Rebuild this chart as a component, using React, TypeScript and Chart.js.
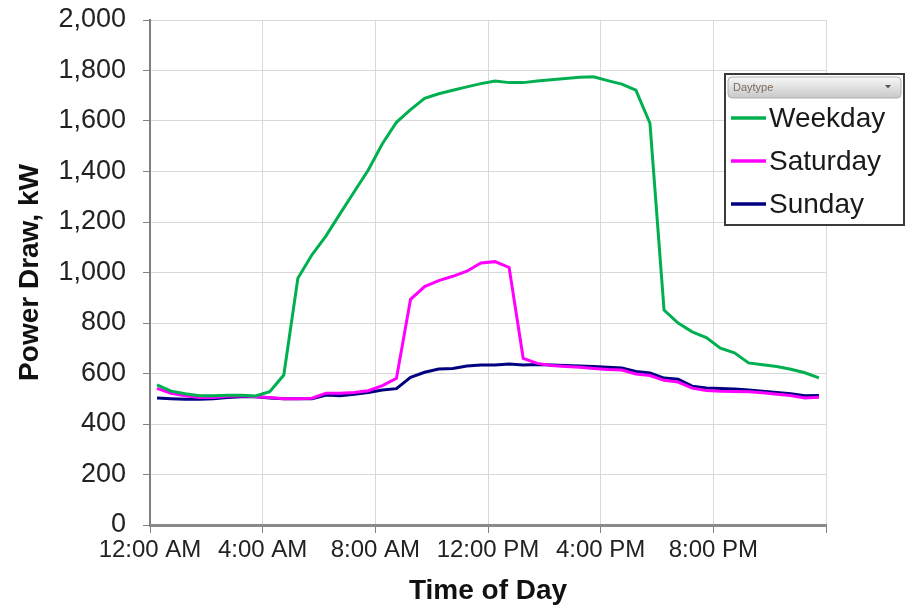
import React, { useEffect, useRef } from 'react';
import { Chart, registerables } from 'chart.js';

Chart.register(...registerables);

// Half-hour interval midpoints (time of day)
const TIMES = [
  '00:15', '00:45', '01:15', '01:45', '02:15', '02:45', '03:15', '03:45',
  '04:15', '04:45', '05:15', '05:45', '06:15', '06:45', '07:15', '07:45',
  '08:15', '08:45', '09:15', '09:45', '10:15', '10:45', '11:15', '11:45',
  '12:15', '12:45', '13:15', '13:45', '14:15', '14:45', '15:15', '15:45',
  '16:15', '16:45', '17:15', '17:45', '18:15', '18:45', '19:15', '19:45',
  '20:15', '20:45', '21:15', '21:45', '22:15', '22:45', '23:15', '23:45',
];

const WEEKDAY = [
  555, 530, 520, 512, 512, 514, 514, 511,
  528, 594, 977, 1070, 1145, 1233, 1320, 1406,
  1510, 1595, 1645, 1690, 1708, 1722, 1735, 1748,
  1758, 1752, 1752, 1758, 1763, 1768, 1773, 1775,
  1760, 1746, 1722, 1591, 851, 800, 765, 742,
  700, 682, 642, 635, 628, 617, 603, 583,
];

const SATURDAY = [
  541, 522, 512, 505, 505, 510, 512, 508,
  505, 500, 500, 502, 522, 522, 525, 532,
  552, 581, 894, 944, 968, 985, 1005, 1038,
  1043, 1020, 660, 640, 632, 628, 625, 620,
  616, 614, 598, 592, 573, 566, 542, 533,
  530, 529, 528, 524, 518, 513, 503, 506,
];

const SUNDAY = [
  503, 500, 498, 498, 500, 505, 508, 508,
  503, 500, 500, 500, 515, 512, 518, 525,
  535, 540, 585, 605, 618, 620, 630, 634,
  634, 638, 634, 636, 634, 632, 630, 628,
  625, 622, 608, 602, 582, 577, 550, 543,
  541, 539, 535, 530, 525, 520, 512, 513,
];

const SERIES_NAMES = ['Weekday', 'Saturday', 'Sunday'];
const SERIES_COLORS = ['#00b050', '#ff00ff', '#000080'];

const X_TICK_HOURS = [0, 4, 8, 12, 16, 20, 24];
const X_TICK_LABELS = ['12:00 AM', '4:00 AM', '8:00 AM', '12:00 PM', '4:00 PM', '8:00 PM', ''];
const Y_MIN = 0;
const Y_MAX = 2000;
const Y_STEP = 200;

const LEGEND_TITLE = 'Daytype';
const X_TITLE = 'Time of Day';
const Y_TITLE = 'Power Draw, kW';

const FONT = "'Liberation Sans', Arial, sans-serif";

const toHours = (t: string) => {
  const [h, m] = t.split(':').map(Number);
  return h + m / 60;
};

const pivotLegend = {
  id: 'pivotLegend',
  afterDraw(chart: any) {
    const ctx = chart.ctx as CanvasRenderingContext2D;
    ctx.save();
    const x = 725, y = 74, w = 179, h = 151;
    ctx.fillStyle = '#ffffff';
    ctx.fillRect(x, y, w, h);
    ctx.strokeStyle = '#3a3a3a';
    ctx.lineWidth = 2;
    ctx.strokeRect(x, y, w, h);

    // header button
    const hx = x + 3, hy = y + 3, hw = w - 6, hh = 21;
    const g = ctx.createLinearGradient(0, hy, 0, hy + hh);
    g.addColorStop(0, '#f7f7f7');
    g.addColorStop(1, '#c8c8c8');
    ctx.fillStyle = g;
    ctx.beginPath();
    const r = 4;
    ctx.moveTo(hx + r, hy);
    ctx.lineTo(hx + hw - r, hy);
    ctx.quadraticCurveTo(hx + hw, hy, hx + hw, hy + r);
    ctx.lineTo(hx + hw, hy + hh - r);
    ctx.quadraticCurveTo(hx + hw, hy + hh, hx + hw - r, hy + hh);
    ctx.lineTo(hx + r, hy + hh);
    ctx.quadraticCurveTo(hx, hy + hh, hx, hy + hh - r);
    ctx.lineTo(hx, hy + r);
    ctx.quadraticCurveTo(hx, hy, hx + r, hy);
    ctx.closePath();
    ctx.fill();
    ctx.strokeStyle = '#b0b0b0';
    ctx.lineWidth = 1;
    ctx.stroke();

    ctx.fillStyle = '#7a6a58';
    ctx.font = `11px ${FONT}`;
    ctx.textBaseline = 'middle';
    ctx.textAlign = 'left';
    ctx.fillText(LEGEND_TITLE, hx + 5, hy + hh / 2);
    // dropdown arrow
    ctx.fillStyle = '#555';
    ctx.beginPath();
    const ax = hx + hw - 13, ay = hy + hh / 2 - 1;
    ctx.moveTo(ax - 3, ay - 1.5);
    ctx.lineTo(ax + 3, ay - 1.5);
    ctx.lineTo(ax, ay + 2);
    ctx.closePath();
    ctx.fill();

    // entries
    chart.data.datasets.forEach((ds: any, i: number) => {
      const ly = 118 + i * 43;
      ctx.strokeStyle = ds.borderColor;
      ctx.lineWidth = 3.5;
      ctx.beginPath();
      ctx.moveTo(x + 6, ly);
      ctx.lineTo(x + 41, ly);
      ctx.stroke();
      ctx.fillStyle = '#1a1a1a';
      ctx.font = `28px ${FONT}`;
      ctx.textBaseline = 'middle';
      ctx.fillText(ds.label, x + 44, ly + 1);
    });
    ctx.restore();
  },
};

export default function App() {
  const canvasRef = useRef<HTMLCanvasElement | null>(null);

  useEffect(() => {
    if (!canvasRef.current) return;
    const hours = TIMES.map(toHours);
    const seriesValues = [WEEKDAY, SATURDAY, SUNDAY];
    const chart = new Chart(canvasRef.current, {
      type: 'line',
      data: {
        datasets: seriesValues.map((vals, i) => ({
          label: SERIES_NAMES[i],
          data: vals.map((v, j) => ({ x: hours[j], y: v })),
          borderColor: SERIES_COLORS[i],
          backgroundColor: SERIES_COLORS[i],
          borderWidth: 3,
          pointRadius: 0,
          tension: 0,
          fill: false,
        })),
      },
      options: {
        responsive: false,
        animation: false,
        devicePixelRatio: 1,
        layout: { padding: { top: 20, right: 81, left: 0, bottom: 0 } },
        plugins: {
          legend: { display: false },
          tooltip: { enabled: false },
        },
        scales: {
          x: {
            type: 'linear',
            min: X_TICK_HOURS[0],
            max: X_TICK_HOURS[X_TICK_HOURS.length - 1],
            afterBuildTicks: (scale: any) => {
              scale.ticks = X_TICK_HOURS.map((v) => ({ value: v }));
            },
            afterFit: (scale: any) => {
              scale.height = 84;
              scale.paddingLeft = 0;
              scale.paddingRight = 0;
            },
            ticks: {
              autoSkip: false,
              maxRotation: 0,
              padding: 3,
              color: '#222',
              font: { family: FONT, size: 24 },
              callback: (v: any) => {
                const idx = X_TICK_HOURS.indexOf(Number(v));
                return idx >= 0 ? X_TICK_LABELS[idx] : '';
              },
            },
            grid: {
              color: '#d9d9d9',
              lineWidth: 1,
              tickLength: 8,
              tickColor: '#808080',
            },
            border: { color: '#8a8a8a', width: 3 },
            title: {
              display: true,
              text: X_TITLE,
              color: '#111',
              font: { family: FONT, size: 28, weight: 'bold' },
              padding: { top: 0, bottom: 1 },
            },
          },
          y: {
            min: Y_MIN,
            max: Y_MAX,
            afterFit: (scale: any) => {
              scale.width = 150;
              scale.paddingTop = 0;
              scale.paddingBottom = 0;
            },
            ticks: {
              stepSize: Y_STEP,
              padding: 17,
              color: '#222',
              font: { family: FONT, size: 27 },
              callback: (v: any) => Number(v).toLocaleString('en-US'),
            },
            grid: {
              color: '#d9d9d9',
              lineWidth: 1,
              tickLength: 7,
              tickColor: '#808080',
            },
            border: { color: '#808080', width: 2 },
            title: {
              display: true,
              text: Y_TITLE,
              color: '#111',
              font: { family: FONT, size: 28, weight: 'bold' },
              padding: { top: 13, bottom: 0 },
            },
          },
        },
      },
      plugins: [pivotLegend],
    } as any);
    return () => chart.destroy();
  }, []);

  return (
    <div style={{ position: 'absolute', left: 0, top: 0, width: 907, height: 609, background: '#fff' }}>
      <canvas ref={canvasRef} width={907} height={609} />
    </div>
  );
}
